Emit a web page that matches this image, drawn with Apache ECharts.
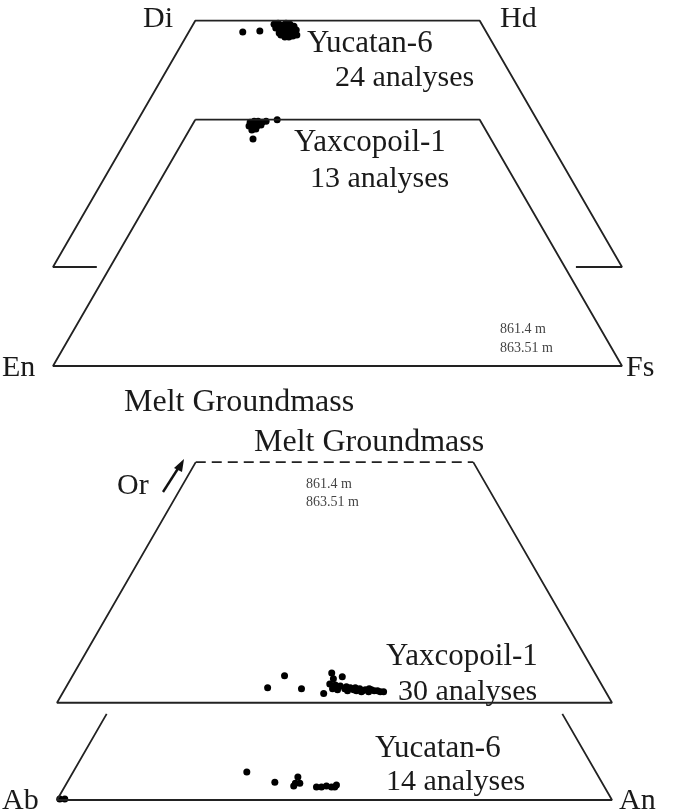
<!DOCTYPE html>
<html>
<head>
<meta charset="utf-8">
<script src="https://cdn.jsdelivr.net/npm/echarts@6/dist/echarts.min.js"></script>
<style>
  html, body { margin: 0; padding: 0; background: #fff; }
  #main { width: 674px; height: 812px; }
</style>
</head>
<body>
<div id="main"></div>
<script>
// pyroxene analyses as [Fs, Wo] (mol %)
var pxYucatan6 = [
  [9.5, 47.7], [12.4, 47.9],
  [14.2, 49.3], [14.8, 49.5], [15.7, 49.1], [16.2, 49.5], [17.0, 49.3], [17.9, 48.9],
  [14.9, 48.5], [15.7, 48.3], [16.2, 48.7], [17.0, 48.5], [17.8, 48.3], [18.7, 48.1],
  [16.0, 47.5], [16.6, 47.7], [17.4, 47.5], [18.2, 47.3], [18.8, 47.5],
  [17.4, 46.7], [18.1, 46.7], [18.7, 46.9], [16.5, 47.1], [19.3, 47.1]
];
var pxYaxcopoil1 = [
  [9.9, 49.5], [10.5, 49.7], [11.2, 49.7], [12.0, 49.5], [12.6, 49.7],
  [10.1, 48.7], [10.7, 48.9], [11.5, 48.7], [12.1, 48.9], [11.0, 47.9],
  [11.6, 48.1], [14.4, 50.0], [12.1, 46.1]
];
// feldspar analyses as [An, Or] (mol %)
var fdYaxcopoil1 = [
  [36.4, 3.1], [38.2, 5.6], [42.6, 2.9], [47.1, 1.9], [46.4, 6.2], [47.3, 5.0],
  [47.2, 3.9], [48.2, 2.9], [48.7, 5.4], [49.2, 2.7], [49.3, 3.5], [50.4, 2.9],
  [51.1, 2.5], [51.3, 3.1], [52.1, 2.7], [52.7, 2.5], [53.1, 2.9], [53.8, 2.5],
  [54.2, 2.7], [55.0, 2.3], [55.3, 2.7], [55.9, 2.5], [56.5, 2.5], [57.1, 2.3],
  [57.7, 2.3], [48.3, 3.7], [50.5, 3.3], [52.2, 3.1], [53.7, 2.3], [54.8, 2.9]
];
var fdYucatan6 = [
  [31.3, 5.8], [37.4, 3.7], [41.0, 4.8], [41.2, 3.5], [41.2, 2.9], [42.0, 3.5],
  [45.4, 2.7], [46.3, 2.7], [47.1, 2.9], [48.1, 2.7], [48.8, 3.1], [48.7, 2.7],
  [0.4, 0.2], [1.3, 0.2]
];

// quadrilateral outlines, same units
var pxFrontOutline = [[0, 50], [0, 0], [100, 0], [50, 50], [0, 50]];
var pxBackOutline = [[7.7, 0], [0, 0], [0, 50], [50, 50], [100, 0], [91.9, 0]];
var fdFrontSides = [[0, 50], [0, 0], [100, 0], [50, 50]];
var fdFrontTop = [[0, 50], [50, 50]];
var fdBackOutline = [[0, 17.9], [0, 0], [100, 0], [82.1, 17.9]];

var backShift = 17.4;   // stacked diagram offset (plot units)
var frontShiftFd = 17.5;

function tern(list, off) {
  return list.map(function (p) {
    return [p[0] + p[1] / 2, p[1] * 0.866 + off];
  });
}

var myChart = echarts.init(document.getElementById('main'));

var serif = 'Liberation Serif';

function outline(data, gi, dashed) {
  return {
    type: 'line', xAxisIndex: gi, yAxisIndex: gi, data: data,
    symbol: 'none', silent: true, animation: false,
    lineStyle: { color: '#222', width: 1.8, type: dashed ? [10, 6] : 'solid' }
  };
}
function dots(data, gi) {
  return {
    type: 'scatter', xAxisIndex: gi, yAxisIndex: gi, data: data,
    symbolSize: 7, itemStyle: { color: '#000', opacity: 1 }, animation: false
  };
}
function txt(s, x, y, size, col) {
  return {
    type: 'text', left: x, top: y - size / 2 + 1,
    style: { text: s, fontFamily: serif, fontSize: size, fill: col || '#1a1a1a' }
  };
}

var option = {
  grid: [
    { left: 53, top: 19, width: 569, height: 347 },
    { left: 57, top: 461, width: 555, height: 339 }
  ],
  xAxis: [
    { type: 'value', gridIndex: 0, min: 0, max: 100, show: false },
    { type: 'value', gridIndex: 1, min: 0, max: 100, show: false }
  ],
  yAxis: [
    { type: 'value', gridIndex: 0, min: 0, max: 61, show: false },
    { type: 'value', gridIndex: 1, min: 0, max: 61, show: false }
  ],
  series: [
    outline(tern(pxBackOutline, backShift), 0),
    outline(tern(pxFrontOutline, 0), 0),
    dots(tern(pxYucatan6, backShift), 0),
    dots(tern(pxYaxcopoil1, 0), 0),
    outline(tern(fdBackOutline, 0), 1),
    outline(tern(fdFrontSides, frontShiftFd), 1),
    outline(tern(fdFrontTop, frontShiftFd), 1, true),
    dots(tern(fdYaxcopoil1, frontShiftFd), 1),
    dots(tern(fdYucatan6, 0), 1)
  ],
  graphic: [
    txt('Di', 143, 18, 30), txt('Hd', 500, 18, 30),
    txt('En', 2, 367, 30), txt('Fs', 626, 367, 30),
    txt('Yucatan-6', 307, 43, 31), txt('24 analyses', 335, 77, 30),
    txt('Yaxcopoil-1', 294, 142, 31), txt('13 analyses', 310, 178, 30),
    txt('861.4 m', 500, 328, 14, '#444'), txt('863.51 m', 500, 347, 14, '#444'),
    txt('Melt Groundmass', 124, 402, 32),
    txt('Melt Groundmass', 254, 442, 32),
    txt('Or', 117, 485, 30),
    txt('861.4 m', 306, 483, 14, '#444'), txt('863.51 m', 306, 501, 14, '#444'),
    txt('Yaxcopoil-1', 386, 656, 31), txt('30 analyses', 398, 691, 30),
    txt('Yucatan-6', 375, 748, 31), txt('14 analyses', 386, 781, 30),
    txt('Ab', 2, 800, 30), txt('An', 619, 800, 30),
    {
      type: 'line', shape: { x1: 163, y1: 492, x2: 179, y2: 467 },
      style: { stroke: '#111', lineWidth: 2.4 }
    },
    {
      type: 'polygon', shape: { points: [[184, 459], [174, 468], [182, 472]] },
      style: { fill: '#111' }
    }
  ]
};
myChart.setOption(option);
</script>
</body>
</html>
